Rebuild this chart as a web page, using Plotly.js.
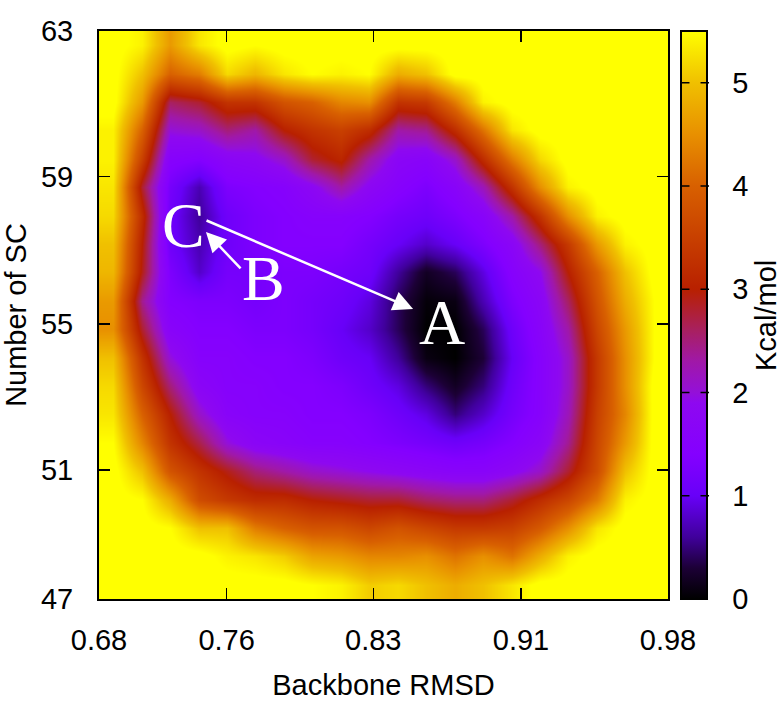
<!DOCTYPE html>
<html>
<head>
<meta charset="utf-8">
<script src="https://cdn.plot.ly/plotly-3.0.1.min.js"></script>
<style>
html,body{margin:0;padding:0;background:#fff;}
#chart{width:783px;height:705px;}
</style>
</head>
<body>
<div id="chart"></div>
<script>
// Backbone RMSD bin centres
const rmsd = [0.6875, 0.7025, 0.7175, 0.7325, 0.7475, 0.7625, 0.7775, 0.7925, 0.8075, 0.8225,
              0.8375, 0.8525, 0.8675, 0.8825, 0.8975, 0.9125, 0.9275, 0.9425, 0.9575, 0.9725];
// Number of SC bin centres (bottom to top)
const nsc = [47.4, 48.2, 49.0, 49.8, 50.6, 51.4, 52.2, 53.0, 53.8, 54.6,
             55.4, 56.2, 57.0, 57.8, 58.6, 59.4, 60.2, 61.0, 61.8, 62.6];

// Free energy (Kcal/mol), one row per Number-of-SC bin
const g_47_4 = [5.6,5.6,5.6,5.6,5.6,5.6,5.6,5.5,5.4,5.1,5.2,5.0,4.8,5.0,5.3,5.6,5.6,5.6,5.6,5.6];
const g_48_2 = [5.6,5.6,5.6,5.6,5.4,5.3,5.1,4.7,4.6,4.4,4.4,4.5,4.2,4.5,4.2,4.8,5.4,5.6,5.6,5.6];
const g_49_0 = [5.6,5.6,5.5,5.0,5.0,4.3,4.0,3.8,3.8,3.6,3.8,3.6,3.4,3.4,3.5,3.9,4.5,5.3,5.6,5.6];
const g_49_8 = [5.6,5.5,4.8,3.7,3.4,3.2,3.2,3.0,2.9,2.8,2.8,2.6,2.5,2.5,2.8,3.2,3.6,4.3,5.4,5.6];
const g_50_6 = [5.6,5.0,3.8,3.3,2.9,2.5,2.3,2.1,2.0,1.9,1.8,1.7,1.6,1.6,1.8,2.1,2.8,3.7,5.0,5.6];
const g_51_4 = [5.5,4.4,3.3,2.7,2.0,1.7,1.6,1.5,1.5,1.4,1.3,1.2,1.1,1.2,1.4,1.7,2.4,3.6,4.6,5.6];
const g_52_2 = [5.3,4.0,3.0,2.1,1.6,1.5,1.5,1.4,1.4,1.3,1.1,0.9,0.5,0.8,1.2,1.5,2.2,3.5,4.4,5.6];
const g_53_0 = [5.2,3.6,2.5,1.7,1.5,1.5,1.4,1.4,1.3,1.1,0.9,0.5,0.2,0.5,1.1,1.5,2.1,3.4,4.5,5.6];
const g_53_8 = [5.0,3.3,2.0,1.5,1.5,1.4,1.4,1.3,1.1,1.0,0.6,0.1,0.0,0.3,1.0,1.5,2.1,3.4,4.5,5.5];
const g_54_6 = [4.5,2.8,1.6,1.4,1.4,1.3,1.3,1.2,1.0,0.8,0.4,0.0,0.0,0.4,1.1,1.6,2.3,3.6,4.6,5.5];
const g_55_4 = [4.6,2.4,1.4,1.3,1.3,1.2,1.3,1.2,1.1,0.9,0.4,0.05,0.1,0.7,1.3,1.7,2.6,3.8,4.8,5.5];
const g_56_2 = [4.9,2.9,1.3,0.8,1.2,1.2,1.3,1.3,1.2,1.1,0.6,0.2,0.4,0.9,1.5,1.9,3.0,4.0,5.0,5.6];
const g_57_0 = [5.0,3.0,1.1,0.7,1.1,1.3,1.4,1.4,1.4,1.2,1.0,0.8,1.0,1.3,1.7,2.5,3.4,4.6,5.4,5.6];
const g_57_8 = [5.2,3.2,1.1,0.6,1.1,1.3,1.4,1.5,1.5,1.4,1.2,1.1,1.3,1.6,2.3,3.3,4.5,5.4,5.6,5.6];
const g_58_6 = [5.3,2.8,1.2,0.7,1.3,1.4,1.5,1.8,2.3,1.8,1.5,1.3,1.6,2.2,3.3,4.5,5.4,5.6,5.6,5.6];
const g_59_4 = [5.4,3.5,1.5,1.4,1.7,1.8,2.1,2.8,3.1,2.3,1.7,1.6,2.1,3.2,4.3,5.2,5.6,5.6,5.6,5.6];
const g_60_2 = [5.4,4.0,2.0,2.1,2.5,2.3,3.0,3.3,3.5,3.2,2.3,2.4,3.2,4.2,5.3,5.6,5.6,5.6,5.6,5.6];
const g_61_0 = [5.6,4.6,2.6,2.8,3.3,3.3,3.8,4.0,4.4,4.5,3.3,3.4,4.3,5.4,5.6,5.6,5.6,5.6,5.6,5.6];
const g_61_8 = [5.6,5.0,4.0,4.3,5.2,4.9,5.3,5.5,5.4,5.5,4.8,5.0,5.6,5.6,5.6,5.6,5.6,5.6,5.6,5.6];
const g_62_6 = [5.6,5.4,4.6,5.3,5.6,5.5,5.6,5.6,5.6,5.6,5.6,5.6,5.6,5.6,5.6,5.6,5.6,5.6,5.6,5.6];

const energy = [g_47_4,g_48_2,g_49_0,g_49_8,g_50_6,g_51_4,g_52_2,g_53_0,g_53_8,g_54_6,
                g_55_4,g_56_2,g_57_0,g_57_8,g_58_6,g_59_4,g_60_2,g_61_0,g_61_8,g_62_6];

// Tick labels
const xTickVals = [0.68, 0.7473, 0.8246, 0.9025, 0.98];
const xTickText = ["0.68", "0.76", "0.83", "0.91", "0.98"];
const yTickVals = [47, 50.63, 54.75, 58.90, 63];
const yTickText = ["47", "51", "55", "59", "63"];
const cbTickVals = [0, 1, 2, 3, 4, 5];

// State labels and arrows
const stateNames = ["C", "B", "A"];
const stateX = [0.7243, 0.7665, 0.8608];
const stateY = [57.51, 56.04, 54.80];
const arrowHeadX = [0.8456, 0.7364];
const arrowHeadY = [55.17, 57.34];
const arrowTailX = [0.7359, 0.7554];
const arrowTailY = [57.68, 56.27];

const cmax = 5.5;
const palette = [
  [0.0, "#000000"], [0.3, "#1c0036"], [0.6, "#40009c"], [1.0, "#6800f8"],
  [1.4, "#8400ff"], [1.9, "#8e08f0"], [2.0, "#9410d8"], [2.3, "#a018a8"],
  [2.6, "#a82060"], [3.0, "#b82000"], [3.5, "#c84000"], [4.0, "#d86000"],
  [4.5, "#e89000"], [5.0, "#f0c000"], [5.5, "#ffff00"]
];
const colorscale = palette.map(p => [p[0] / cmax, p[1]]);

const font = "Liberation Sans, Arial, sans-serif";

// colour bar geometry (paper units)
const cbLeft = 1.0228, cbRight = 1.0721;

const trace = {
  type: "heatmap",
  x: rmsd, y: nsc, z: energy,
  zsmooth: "best",
  zmin: 0, zmax: cmax,
  colorscale: colorscale,
  colorbar: {
    x: cbLeft, xanchor: "left", xpad: 0,
    y: 0.5, yanchor: "middle", ypad: 0,
    len: 1, lenmode: "fraction",
    thickness: 26, thicknessmode: "pixels",
    outlinewidth: 2, outlinecolor: "#000",
    ticks: "outside", ticklen: 19, tickwidth: 1, tickcolor: "rgba(0,0,0,0)",
    tickvals: cbTickVals,
    tickfont: {family: font, size: 29, color: "#000"}
  }
};

const annotations = [];
for (let i = 0; i < stateNames.length; i++) {
  annotations.push({
    x: stateX[i], y: stateY[i], xref: "x", yref: "y",
    text: stateNames[i], showarrow: false,
    font: {family: "Liberation Serif, Times New Roman, serif", size: 64, color: "#fff"}
  });
}
for (let i = 0; i < arrowHeadX.length; i++) {
  annotations.push({
    x: arrowHeadX[i], y: arrowHeadY[i], xref: "x", yref: "y",
    ax: arrowTailX[i], ay: arrowTailY[i], axref: "x", ayref: "y",
    text: "", showarrow: true,
    arrowhead: 2, arrowsize: 1.6, arrowwidth: 2.5, arrowcolor: "#fff"
  });
}
// inside tick dashes on both edges of the colour bar
cbTickVals.filter(v => v > 0).forEach(v => {
  annotations.push({x: cbLeft, y: v / cmax, xref: "paper", yref: "paper", text: "",
    showarrow: true, arrowhead: 0, arrowwidth: 1.5, arrowcolor: "#000", ax: 10, ay: 0, standoff: 0, startstandoff: 0});
  annotations.push({x: cbRight, y: v / cmax, xref: "paper", yref: "paper", text: "",
    showarrow: true, arrowhead: 0, arrowwidth: 1.5, arrowcolor: "#000", ax: -10, ay: 0, standoff: 0, startstandoff: 0});
});
// colour bar title
annotations.push({x: 1.1722, y: 0.5, xref: "paper", yref: "paper", xanchor: "center", yanchor: "middle",
  text: "Kcal/mol", textangle: -90, showarrow: false, font: {family: font, size: 29, color: "#000"}});

const layout = {
  width: 783, height: 705,
  margin: {l: 99, r: 115, t: 31, b: 106},
  paper_bgcolor: "#fff", plot_bgcolor: "#ffff00",
  showlegend: false,
  font: {family: font, size: 29, color: "#000"},
  xaxis: {
    range: [0.68, 0.98], autorange: false, automargin: false,
    tickvals: xTickVals, ticktext: xTickText,
    ticks: "inside", ticklen: 11, tickwidth: 1.5, tickcolor: "#000",
    ticklabelstandoff: 14,
    showline: true, linecolor: "#000", linewidth: 2, mirror: "ticks",
    showgrid: false, zeroline: false,
    tickfont: {family: font, size: 29, color: "#000"},
    title: {text: "Backbone RMSD", font: {family: font, size: 29, color: "#000"}, standoff: 20}
  },
  yaxis: {
    range: [47, 63], autorange: false, automargin: false,
    tickvals: yTickVals, ticktext: yTickText,
    ticks: "inside", ticklen: 11, tickwidth: 1.5, tickcolor: "#000",
    ticklabelstandoff: 18,
    showline: true, linecolor: "#000", linewidth: 2, mirror: "ticks",
    showgrid: false, zeroline: false,
    tickfont: {family: font, size: 29, color: "#000"},
    title: {text: "Number of SC", font: {family: font, size: 29, color: "#000"}, standoff: 8}
  },
  annotations: annotations
};

Plotly.newPlot("chart", [trace], layout, {displayModeBar: false, staticPlot: true});
</script>
</body>
</html>
